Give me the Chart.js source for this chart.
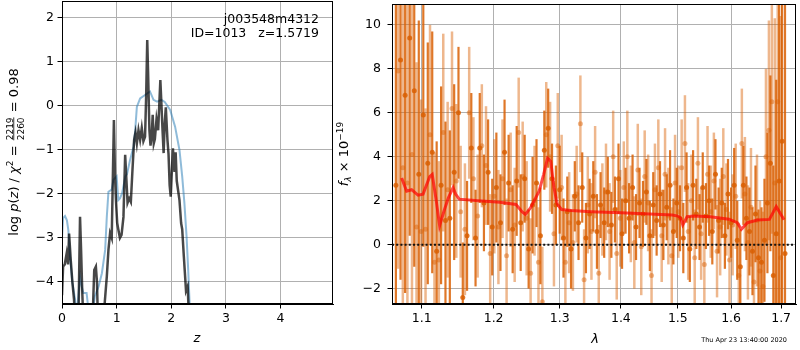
<!DOCTYPE html>
<html><head><meta charset="utf-8">
<script src="https://cdn.jsdelivr.net/npm/chart.js@4/dist/chart.umd.min.js"></script>
<style>
html,body{margin:0;padding:0;background:#fff;}
#wrap{position:relative;width:800px;height:350px;background:#fff;}
canvas{position:absolute;left:0;top:0;}
</style></head><body>
<div id="wrap"><canvas id="pz" width="800" height="350"></canvas><canvas id="sp" width="800" height="350"></canvas></div>
<script>
// ---------- left panel: log p(z) ----------
const zTicks = [0, 1, 2, 3, 4];
const pzTicks = [-4, -3, -2, -1, 0, 1, 2];
const pzDarkZ = [0.00,0.02,0.05,0.085,0.11,0.13,0.16,0.19,0.22,0.25,0.30,0.32,0.33,0.35,0.37,0.40,0.55,0.59,0.62,0.64,0.66,0.75,0.78,0.82,0.85,0.88,0.91,0.95,0.97,0.99,1.01,1.03,1.06,1.09,1.125,1.156,1.20,1.23,1.26,1.29,1.32,1.345,1.37,1.40,1.43,1.46,1.49,1.52,1.54,1.56,1.575,1.60,1.62,1.64,1.66,1.68,1.70,1.73,1.76,1.80,1.82,1.84,1.86,1.88,1.90,1.93,1.95,1.97,1.99,2.01,2.03,2.06,2.08,2.10,2.15,2.18,2.20,2.23,2.27,2.30,2.33,2.40];
const pzDarkLogP = [-4.3,-3.65,-3.6,-3.35,-3.6,-2.9,-3.5,-4.0,-4.4,-5.2,-5.0,-3.3,-2.52,-3.3,-4.2,-5.2,-5.2,-3.73,-3.65,-4.0,-5.0,-5.0,-4.5,-3.88,-3.27,-2.89,-3.0,-0.32,-1.6,-2.2,-2.66,-2.8,-3.0,-2.93,-2.52,-1.11,-2.2,-2.1,-2.18,-1.45,-0.77,-0.6,-0.85,-0.55,-0.77,-0.5,-0.8,-0.7,0.21,1.5,0.8,-0.55,-0.9,-0.7,-0.2,-0.85,-0.75,-0.3,-0.55,0.59,0.03,-0.55,-1.07,-0.4,-0.03,-0.77,-1.1,-1.8,-2.06,-1.5,-0.96,-1.5,-1.05,-1.7,-2.14,-2.66,-2.8,-3.42,-4.2,-4.1,-5.0,-6.0];
const pzBlueZ = [0.00,0.02,0.055,0.09,0.116,0.147,0.19,0.24,0.27,0.30,0.33,0.36,0.39,0.45,0.50,0.55,0.60,0.67,0.73,0.79,0.82,0.85,0.91,0.94,1.00,1.03,1.06,1.10,1.16,1.19,1.245,1.31,1.34,1.37,1.43,1.52,1.61,1.675,1.74,1.82,1.88,1.98,2.07,2.15,2.20,2.24,2.28,2.31,2.33,2.36];
const pzBlueLogP = [-3.0,-2.55,-2.5,-2.6,-2.82,-3.42,-4.02,-4.4,-4.8,-4.3,-3.88,-4.1,-4.25,-4.25,-4.8,-4.8,-4.33,-4.1,-3.8,-3.27,-2.52,-1.95,-1.9,-1.68,-1.6,-2.14,-2.1,-1.98,-1.6,-1.55,-1.23,-0.92,-0.55,-0.02,0.17,0.25,0.33,0.14,0.1,0.14,0.09,-0.09,-0.47,-1.0,-1.6,-2.2,-2.97,-3.73,-4.33,-5.2];

// ---------- right panel: spectrum ----------
const lamTicks = [1.1, 1.2, 1.3, 1.4, 1.5, 1.6, 1.7];
const fluxTicks = [-2, 0, 2, 4, 6, 8, 10];
const darkLam = [1.066,1.072,1.078,1.084,1.090,1.096,1.102,1.108,1.114,1.120,
1.126,1.132,1.138,1.144,1.150,1.156,1.162,1.168,1.174,1.180,
1.186,1.192,1.198,1.204,1.210,1.216,1.222,1.228,1.234,1.240,
1.246,1.252,1.258,1.264,1.270,1.276,1.282,1.288,1.294,1.300,
1.306,1.312,1.318,1.324,1.330,1.336,1.342,1.348,1.354,1.360,
1.366,1.372,1.378,1.384,1.390,1.396,1.402,1.408,1.414,1.420,
1.426,1.432,1.438,1.444,1.450,1.456,1.462,1.468,1.474,1.480,
1.486,1.492,1.498,1.504,1.510,1.516,1.522,1.528,1.534,1.540,
1.546,1.552,1.558,1.564,1.570,1.576,1.582,1.588,1.594,1.600,
1.606,1.612,1.618,1.624,1.630,1.636,1.642,1.648,1.654,1.660,
1.666,1.672,1.678,1.684,1.690,1.696,1.702,1.708];
const darkFlux = [2.7,8.4,6.8,9.4,7.0,3.2,5.9,3.7,4.2,-0.3,
2.7,1.1,1.2,3.3,6.0,-2.4,0.4,4.4,0.3,4.4,
1.9,3.3,0.8,2.6,1.0,4.2,2.8,0.7,2.9,1.0,
3.0,-0.2,1.8,2.8,0.4,4.3,5.3,3.0,1.8,2.5,
0.3,1.5,-0.2,2.2,1.0,2.6,0.3,1.4,2.2,0.6,
1.8,1.0,2.4,0.9,1.6,3.0,0.5,2.0,1.2,2.6,
0.8,1.9,1.4,2.4,0.4,1.8,1.1,2.3,0.9,1.7,
2.7,0.6,1.9,1.2,0.3,2.6,-0.2,2.7,1.4,0.8,
2.6,1.3,2.0,0.6,3.2,1.1,1.9,0.4,2.3,1.0,
2.7,0.2,-1.0,2.7,1.2,0.6,-0.3,1.4,-0.6,-0.8,
0.2,1.9,3.7,-1.4,0.5,2.9,4.7,-0.4];
const darkErr = [9,10,9,9,8,7,6,5.5,5.5,5,
4.5,4.5,4,4,3,2.5,2.5,2.5,2.2,2.5,
2.2,2.4,2.2,2.5,2.2,2.4,2.2,2.0,2.5,2.2,
2.0,1.8,2.2,2.0,2.2,1.8,1.8,1.6,1.8,2.0,
1.8,1.6,1.8,1.6,1.7,1.6,1.6,1.6,1.6,1.7,
1.5,1.6,1.6,1.5,1.5,1.6,1.6,1.5,1.6,1.5,
1.5,1.6,1.5,1.5,1.6,1.5,1.6,1.5,1.6,1.5,
1.6,1.5,1.6,1.5,1.6,1.6,1.5,1.6,1.6,1.5,
1.6,1.5,1.6,1.5,1.6,1.5,1.6,1.5,1.6,1.6,
1.7,1.8,1.7,1.8,1.9,2.0,2.0,2.2,2.2,2.5,
2.8,3.2,4,5,7,10,12,14];
const lightLam = [1.069,1.075,1.081,1.087,1.093,1.099,1.105,1.111,1.117,1.123,
1.129,1.135,1.141,1.147,1.153,1.159,1.165,1.171,1.177,1.183,
1.189,1.195,1.201,1.207,1.213,1.219,1.225,1.231,1.237,1.243,
1.249,1.255,1.261,1.267,1.273,1.279,1.285,1.291,1.297,1.303,
1.309,1.315,1.321,1.327,1.333,1.339,1.345,1.351,1.357,1.363,
1.369,1.375,1.381,1.387,1.393,1.399,1.405,1.411,1.417,1.423,
1.429,1.435,1.441,1.447,1.453,1.459,1.465,1.471,1.477,1.483,
1.489,1.495,1.501,1.507,1.513,1.519,1.525,1.531,1.537,1.543,
1.549,1.555,1.561,1.567,1.573,1.579,1.585,1.591,1.597,1.603,
1.609,1.615,1.621,1.627,1.633,1.639,1.645,1.651,1.657,1.663,
1.669,1.675,1.681,1.687,1.693,1.699];
const lightFlux = [7.9,3.5,2.8,4.1,0.8,0.6,0.7,5.0,-0.8,-0.7,
5.1,2.5,6.2,2.9,1.5,0.7,6.0,3.0,1.3,4.5,
3.6,-0.4,2.2,0.8,3.0,-0.5,2.5,0.9,5.1,3.1,
1.2,-1.3,2.0,-0.8,-2.6,5.0,4.0,0.5,4.5,2.6,
-0.8,1.0,0.1,2.3,5.5,-1.6,1.8,0.6,3.3,-1.3,
1.6,2.4,0.6,4.0,-0.4,1.2,2.6,4.0,1.4,0.1,
3.4,-0.1,3.1,1.9,-1.4,2.5,3.5,0.4,3.2,1.3,
-0.5,2.8,1.5,3.5,4.6,0.6,2.0,-0.6,3.7,0.5,
-0.9,3.2,1.5,2.9,-0.3,0.8,3.1,1.6,-0.7,0.9,
2.2,-1.4,4.6,2.3,0.1,1.7,-1.7,1.1,-1.2,-1.9,
4.0,5.2,6.5,2.8,6.5,-0.6];
const lightErr = [9,9,9,8,7.5,6,5.5,5,5,4.5,
4.5,4,3.5,3.5,3,3,3,2.8,2.8,2.8,
2.7,2.7,2.6,2.6,2.7,2.6,2.6,2.6,2.5,2.5,
2.6,2.5,2.5,2.5,2.5,2.4,2.5,2.4,2.4,2.4,
2.3,2.3,2.2,2.2,2.2,2.3,2.2,2.2,2.1,2.2,
2.1,2.2,2.2,2.1,2.1,2.2,2.1,2.1,2.2,2.1,
2.1,2.2,2.1,2.2,2.1,2.1,2.2,2.1,2.1,2.2,
2.2,2.2,2.1,2.2,2.2,2.2,2.1,2.2,2.1,2.1,
2.2,2.2,2.1,2.2,2.1,2.2,2.2,2.1,2.2,2.3,
2.4,2.4,2.5,2.6,2.6,2.7,2.8,3.0,3.2,3.4,
4.0,5.0,6.0,7.5,9.5,11];
const modelLam = [1.0735,1.080,1.0865,1.095,1.1017,1.1106,1.114,1.1195,1.124,1.130,1.136,1.1425,1.146,1.151,1.178,1.209,1.233,1.242,1.247,1.255,1.268,1.275,1.281,1.286,1.291,1.296,1.303,1.318,1.35,1.40,1.45,1.49,1.50,1.505,1.509,1.517,1.53,1.56,1.596,1.612,1.62,1.632,1.652,1.676,1.69,1.706];
const modelFlux = [3.03,2.43,2.5,2.25,2.3,3.1,3.2,1.98,0.86,1.53,2.13,2.6,2.3,2.07,2.0,1.93,1.83,1.5,1.38,1.68,2.43,3.2,3.93,3.8,2.6,1.85,1.6,1.55,1.5,1.45,1.4,1.35,1.3,1.22,0.9,1.27,1.3,1.27,1.16,1.0,0.7,1.0,1.12,1.15,1.73,1.13];
const zeroLevel = 0;

const FONT = 'DejaVu Sans';
const fmt = v => String(v).replace('-', '\u2212');
const pts = (xs, ys) => xs.map((x, i) => ({x: x, y: ys[i]}));
const fixTicks = arr => s => { s.ticks = arr.map(v => ({value: v})); };
const fitX = h => s => { s.height = h; s.paddingLeft = 0; s.paddingRight = 0; };
const fitY = w => s => { s.width = w; s.paddingTop = 0; s.paddingBottom = 0; };

const framePlugin = {
  id: 'frame',
  afterDraw(chart) {
    const {ctx, chartArea: a} = chart;
    ctx.save();
    ctx.strokeStyle = '#000'; ctx.lineWidth = 1;
    ctx.strokeRect(Math.round(a.left) + 0.5, Math.round(a.top) + 0.5, Math.round(a.right - a.left) - 1, Math.round(a.bottom - a.top) - 1);
    ctx.restore();
  }
};

const errorBarPlugin = {
  id: 'errbars',
  beforeDatasetDraw(chart, args) {
    const ds = chart.data.datasets[args.index];
    if (!ds.errors) return;
    const {ctx, chartArea: a} = chart;
    const xs = chart.scales.x, ys = chart.scales.y;
    ctx.save();
    ctx.beginPath(); ctx.rect(a.left, a.top, a.right - a.left, a.bottom - a.top); ctx.clip();
    ctx.strokeStyle = ds.errColor; ctx.lineWidth = ds.errWidth; ctx.lineCap = 'butt';
    ds.data.forEach((p, i) => {
      const e = ds.errors[i];
      const px = xs.getPixelForValue(p.x);
      ctx.beginPath();
      ctx.moveTo(px, ys.getPixelForValue(p.y - e));
      ctx.lineTo(px, ys.getPixelForValue(p.y + e));
      ctx.stroke();
    });
    ctx.restore();
  }
};

const zeroLinePlugin = {
  id: 'zeroline',
  afterDatasetsDraw(chart) {
    const {ctx, chartArea: a} = chart;
    const y = chart.scales.y.getPixelForValue(zeroLevel);
    ctx.save();
    ctx.strokeStyle = '#111'; ctx.lineWidth = 2; ctx.setLineDash([2, 2.2]);
    ctx.beginPath(); ctx.moveTo(a.left, y); ctx.lineTo(a.right, y); ctx.stroke();
    ctx.restore();
  }
};

function drawParts(ctx, parts, cx, cy) {
  let total = 0;
  parts.forEach(p => {
    ctx.font = p.font;
    p.w = p.frac ? Math.max(ctx.measureText(p.num).width, ctx.measureText(p.den).width) + 2 : ctx.measureText(p.t).width;
    total += p.w;
  });
  let x = cx - total / 2;
  ctx.textBaseline = 'alphabetic';
  parts.forEach(p => {
    ctx.font = p.font;
    if (p.frac) {
      const mid = x + p.w / 2;
      ctx.textAlign = 'center';
      ctx.fillText(p.num, mid, cy - 5.5);
      ctx.fillText(p.den, mid, cy + 5.5);
      ctx.fillRect(x + 1, cy - 4.6, p.w - 2, 0.8);
    } else {
      ctx.textAlign = 'left';
      ctx.fillText(p.t, x, cy + (p.dy || 0));
    }
    x += p.w;
  });
}

const N = '13px ' + FONT, I = 'italic 13px ' + FONT, S = '9px ' + FONT, SI = 'italic 9px ' + FONT;

const leftLabels = {
  id: 'leftLabels',
  afterDraw(chart) {
    const ctx = chart.ctx;
    ctx.save();
    ctx.fillStyle = '#000';
    ctx.translate(18, 152);
    ctx.rotate(-Math.PI / 2);
    drawParts(ctx, [
      {t: 'log ', font: N}, {t: 'p', font: I}, {t: '(', font: N}, {t: 'z', font: I},
      {t: ') / ', font: N}, {t: '\u03c7', font: I}, {t: '2', font: S, dy: -5},
      {t: ' = ', font: N}, {frac: true, num: '2219', den: '2260', font: S},
      {t: ' = 0.98', font: N}
    ], 0, 0);
    ctx.restore();
    ctx.save();
    ctx.fillStyle = '#000';
    ctx.font = I; ctx.textAlign = 'center'; ctx.textBaseline = 'middle';
    ctx.fillText('z', 197, 339);
    ctx.font = '12.5px ' + FONT; ctx.textAlign = 'right';
    ctx.fillText('j003548m4312', 319, 20);
    ctx.fillText('ID=1013   z=1.5719', 319, 34);
    ctx.restore();
  }
};

const rightLabels = {
  id: 'rightLabels',
  afterDraw(chart) {
    const ctx = chart.ctx;
    ctx.save();
    ctx.fillStyle = '#000';
    ctx.translate(348, 154);
    ctx.rotate(-Math.PI / 2);
    drawParts(ctx, [
      {t: 'f', font: I}, {t: '\u03bb', font: SI, dy: 3}, {t: ' \u00d7 10', font: N},
      {t: '\u221219', font: S, dy: -5}
    ], 0, 0);
    ctx.restore();
    ctx.save();
    ctx.fillStyle = '#000';
    ctx.font = I; ctx.textAlign = 'center'; ctx.textBaseline = 'middle';
    ctx.fillText('\u03bb', 595, 340);
    ctx.font = '6.5px ' + FONT; ctx.textAlign = 'right';
    ctx.fillText('Thu Apr 23 13:40:00 2020', 787, 340);
    ctx.restore();
  }
};

const tickFont = {family: FONT, size: 12.5};
const gridCfg = {color: '#b0b0b0', lineWidth: 1, tickColor: '#000', tickLength: 4.5, drawTicks: true};

new Chart(document.getElementById('pz'), {
  type: 'line',
  data: {datasets: [
    {data: pts(pzDarkZ, pzDarkLogP), borderColor: 'rgba(0,0,0,0.72)', borderWidth: 2.5, pointRadius: 0, tension: 0},
    {data: pts(pzBlueZ, pzBlueLogP), borderColor: 'rgba(31,119,180,0.5)', borderWidth: 2, pointRadius: 0, tension: 0}
  ]},
  options: {
    responsive: false, animation: false, devicePixelRatio: 1,
    layout: {padding: {left: 0, right: 467, top: 1, bottom: 0}},
    plugins: {legend: {display: false}, tooltip: {enabled: false}},
    scales: {
      x: {type: 'linear', min: 0, max: 4.96, afterBuildTicks: fixTicks(zTicks), afterFit: fitX(46),
          ticks: {font: tickFont, color: '#000', padding: 3, autoSkip: false, maxRotation: 0, callback: v => fmt(v)},
          grid: gridCfg, border: {color: '#000'}},
      y: {type: 'linear', min: -4.5, max: 2.386, afterBuildTicks: fixTicks(pzTicks), afterFit: fitY(62),
          ticks: {font: tickFont, color: '#000', padding: 3.5, autoSkip: false, callback: v => fmt(v)},
          grid: gridCfg, border: {color: '#000'}}
    }
  },
  plugins: [framePlugin, leftLabels]
});

new Chart(document.getElementById('sp'), {
  type: 'scatter',
  data: {datasets: [
    {data: pts(modelLam, modelFlux), showLine: true, borderColor: 'rgba(255,0,0,0.7)', borderWidth: 3, pointRadius: 0, tension: 0},
    {data: pts(darkLam, darkFlux), errors: darkErr, errColor: 'rgba(217,95,2,0.85)', errWidth: 2.2,
     pointRadius: 2.5, backgroundColor: 'rgba(217,95,2,0.85)', borderWidth: 0},
    {data: pts(lightLam, lightFlux), errors: lightErr, errColor: 'rgba(217,95,2,0.45)', errWidth: 2.5,
     pointRadius: 2.5, backgroundColor: 'rgba(217,95,2,0.45)', borderWidth: 0}
  ]},
  options: {
    responsive: false, animation: false, devicePixelRatio: 1,
    layout: {padding: {left: 340, right: 1, top: 1, bottom: 0}},
    plugins: {legend: {display: false}, tooltip: {enabled: false}},
    scales: {
      x: {type: 'logarithmic', min: 1.061, max: 1.7309, afterBuildTicks: fixTicks(lamTicks), afterFit: fitX(46),
          ticks: {font: tickFont, color: '#000', padding: 3, autoSkip: false, maxRotation: 0, callback: v => Number(v).toFixed(1)},
          grid: gridCfg, border: {color: '#000'}},
      y: {type: 'linear', min: -2.7, max: 10.95, afterBuildTicks: fixTicks(fluxTicks), afterFit: fitY(52),
          ticks: {font: tickFont, color: '#000', padding: 6.5, autoSkip: false, callback: v => fmt(v)},
          grid: gridCfg, border: {color: '#000'}}
    }
  },
  plugins: [errorBarPlugin, zeroLinePlugin, framePlugin, rightLabels]
});
</script>
</body></html>
